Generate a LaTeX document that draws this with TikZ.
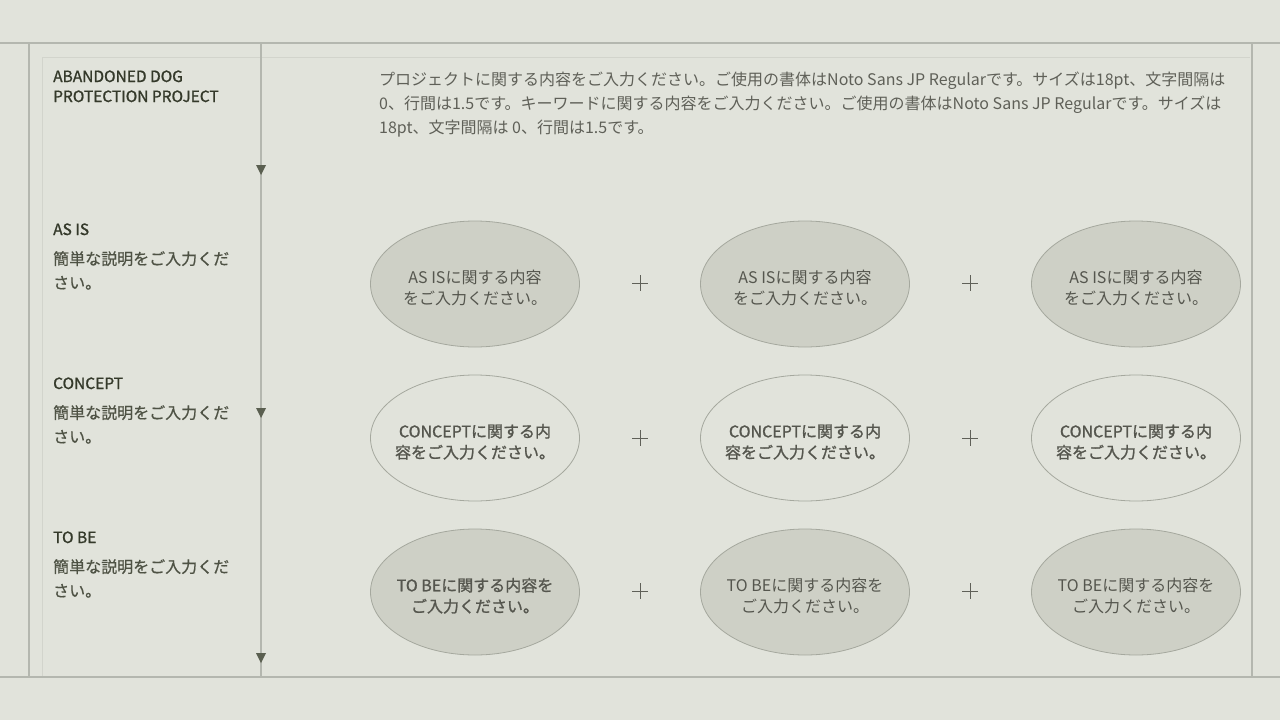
\documentclass[tikz,border=0pt]{standalone}
\usepackage{fontspec}
\setmainfont{Noto Sans CJK JP}
\newfontfamily\medfont[FakeBold=1.2]{Noto Sans CJK JP}
\newfontfamily\descfont[FakeBold=0.5]{Noto Sans CJK JP}
\usetikzlibrary{shapes.geometric}

\definecolor{bgcol}{RGB}{225,227,219}
\definecolor{framecol}{RGB}{180,183,175}
\definecolor{faintcol}{RGB}{210,212,204}
\definecolor{headcol}{RGB}{52,57,42}
\definecolor{desccol}{RGB}{78,82,68}
\definecolor{bodycol}{RGB}{95,96,88}
\definecolor{ovaltext}{RGB}{85,86,78}
\definecolor{ovalfill}{RGB}{206,208,198}
\definecolor{ovalline}{RGB}{165,168,158}
\definecolor{markcol}{RGB}{90,95,80}

% strut that pushes the two oval lines down a little
\newcommand{\ovalstrut}{\rule{0pt}{21pt}}

\tikzset{
  heading/.style={anchor=base west, inner sep=0pt, text=headcol, font=\medfont\fontsize{15.5}{20}\selectfont},
  desc/.style={anchor=north west, inner sep=0pt, align=left, text=desccol, font=\descfont\fontsize{16}{24}\selectfont},
  oval/.style={ellipse, draw=ovalline, line width=0.8pt, minimum width=209pt, minimum height=126pt, inner xsep=-20pt, inner ysep=0pt, align=center, text=ovaltext, font=\fontsize{16}{21}\selectfont},
  ovalfilled/.style={oval, fill=ovalfill},
  ovalbold/.style={font=\medfont\fontsize{16}{21}\selectfont},
  frameline/.style={draw=framecol, line width=1.2pt},
  faintline/.style={draw=faintcol, line width=0.8pt},
}

\begin{document}
\begin{tikzpicture}[x=1pt,y=-1pt]
  % Background
  \fill[bgcol] (0,0) rectangle (1280,720);
  \useasboundingbox (0,0) rectangle (1280,720);

  % Drawing frame
  \draw[faintline] (42,677) -- (42,57) -- (1250,57);%
  \draw[frameline] (0,43) -- (1280,43);%
  \draw[frameline] (0,677) -- (1280,677);%
  \draw[frameline] (29,43) -- (29,677);%
  \draw[frameline] (261,43) -- (261,677);%
  \draw[frameline] (1252,43) -- (1252,677);%

  % Marking the time line
  \fill[markcol] (256,165) -- (266,165) -- (261,175) -- cycle;%
  \fill[markcol] (256,408) -- (266,408) -- (261,418) -- cycle;%
  \fill[markcol] (256,653) -- (266,653) -- (261,663) -- cycle;%

  % Project title
  \node[heading] (title1) at (53,82) {ABANDONED DOG};%
  \node[heading] (title2) at (53,102) {PROTECTION PROJECT};%

  % Project text
  \node[anchor=north west, inner sep=0pt, align=left, text=bodycol,
        font=\fontsize{16}{24}\selectfont] (intro) at (379,72)
    {プロジェクトに関する内容をご入力ください。ご使用の書体はNoto Sans JP Regularです。サイズは18pt、文字間隔は\\
     0、行間は1.5です。キーワードに関する内容をご入力ください。ご使用の書体はNoto Sans JP Regularです。サイズは\\
     18pt、文字間隔は 0、行間は1.5です。};%

  % Row AS IS
  \node[heading] (asis) at (53,235) {AS IS};%
  \node[desc] (asisdesc) at (53,251) {簡単な説明をご入力くだ\\さい。};%
  \node[ovalfilled] (asisA) at (475,284) {\ovalstrut AS ISに関する内容\\をご入力ください。};%
  \node[ovalfilled] (asisB) at (805,284) {\ovalstrut AS ISに関する内容\\をご入力ください。};%
  \node[ovalfilled] (asisC) at (1136,284) {\ovalstrut AS ISに関する内容\\をご入力ください。};%

  % Row CONCEPT
  \node[heading] (concept) at (53,389) {CONCEPT};%
  \node[desc] (conceptdesc) at (53,405) {簡単な説明をご入力くだ\\さい。};%
  \node[oval, ovalbold] (conceptA) at (475,438) {\ovalstrut CONCEPTに関する内\\容をご入力ください。};%
  \node[oval, ovalbold] (conceptB) at (805,438) {\ovalstrut CONCEPTに関する内\\容をご入力ください。};%
  \node[oval, ovalbold] (conceptC) at (1136,438) {\ovalstrut CONCEPTに関する内\\容をご入力ください。};%

  % Row TO BE
  \node[heading] (tobe) at (53,543) {TO BE};%
  \node[desc] (tobedesc) at (53,559) {簡単な説明をご入力くだ\\さい。};%
  \node[ovalfilled, ovalbold] (tobeA) at (475,592) {\ovalstrut TO BEに関する内容を\\ご入力ください。};%
  \node[ovalfilled] (tobeB) at (805,592) {\ovalstrut TO BEに関する内容を\\ご入力ください。};%
  \node[ovalfilled] (tobeC) at (1136,592) {\ovalstrut TO BEに関する内容を\\ご入力ください。};%

  % Marking the plus signs
  \draw[bodycol, line width=1pt] (632,283) -- (648,283) (640,275) -- (640,291);%
  \draw[bodycol, line width=1pt] (962,283) -- (978,283) (970,275) -- (970,291);%
  \draw[bodycol, line width=1pt] (632,438) -- (648,438) (640,430) -- (640,446);%
  \draw[bodycol, line width=1pt] (962,438) -- (978,438) (970,430) -- (970,446);%
  \draw[bodycol, line width=1pt] (632,591) -- (648,591) (640,583) -- (640,599);%
  \draw[bodycol, line width=1pt] (962,591) -- (978,591) (970,583) -- (970,599);%
\end{tikzpicture}
\end{document}
